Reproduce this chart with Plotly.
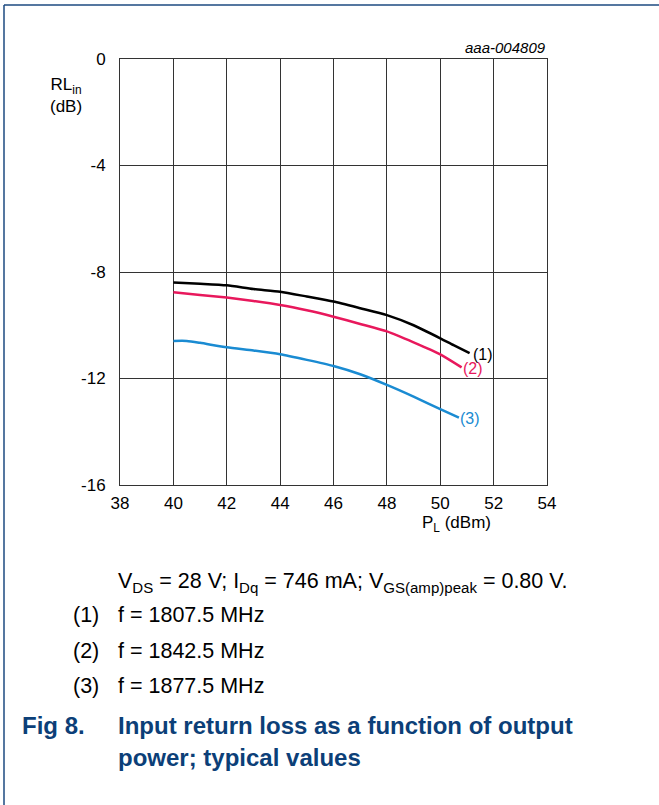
import plotly.graph_objects as go

# ---- data ----
pl_1 = [40, 41, 42, 43, 44, 45, 46, 47, 48, 49, 50, 50.5, 51.1]
rl_1 = [-8.39, -8.44, -8.50, -8.64, -8.74, -8.92, -9.11, -9.36, -9.62, -10.0, -10.49, -10.75, -11.05]

pl_2 = [40, 41, 42, 43, 44, 45, 46, 47, 48, 49, 50, 50.8]
rl_2 = [-8.76, -8.86, -8.96, -9.09, -9.24, -9.44, -9.68, -9.95, -10.23, -10.64, -11.09, -11.58]

pl_3 = [40, 40.5, 41, 42, 43, 44, 45, 46, 47, 48, 49, 50, 50.7]
rl_3 = [-10.59, -10.59, -10.66, -10.83, -10.95, -11.09, -11.30, -11.53, -11.84, -12.24, -12.68, -13.15, -13.47]

series_labels = ["(1)", "(2)", "(3)"]
series_colors = ["#000000", "#e8185c", "#1a8bd2"]
x_ticks = [38, 40, 42, 44, 46, 48, 50, 52, 54]
y_ticks = [0, -4, -8, -12, -16]

W, H = 659, 805
L, R, T, B = 120, 547, 59, 485
FONT = "Liberation Sans, Arial, sans-serif"
NAVY = "#0c3f78"


def px(x):
    return (x - L) / (R - L)


def py(y):
    return (B - y) / (B - T)


fig = go.Figure()
for xs, ys, c in zip([pl_1, pl_2, pl_3], [rl_1, rl_2, rl_3], series_colors):
    fig.add_trace(go.Scatter(x=xs, y=ys, mode="lines",
                             line=dict(color=c, width=2.5, shape="spline", smoothing=0.6),
                             showlegend=False, hoverinfo="skip"))

# curve labels at the end of each curve
for xs, ys, lab, c, dx, dy in zip([pl_1, pl_2, pl_3], [rl_1, rl_2, rl_3], series_labels,
                                  series_colors, [1, -1, -1], [-1, -1, -1]):
    fig.add_annotation(x=xs[-1], y=ys[-1], text=lab, showarrow=False,
                       xanchor="left", yanchor="middle", xshift=dx, yshift=dy,
                       font=dict(family=FONT, size=16, color=c))

axis_common = dict(showgrid=True, gridcolor="#333333", gridwidth=1,
                   showline=True, linecolor="#333333", linewidth=1, mirror=True,
                   zeroline=False, ticks="", tickfont=dict(family=FONT, size=17, color="#000000"))

fig.update_xaxes(range=[38, 54], tickvals=x_ticks, ticktext=[str(v) for v in x_ticks],
                 ticklabelstandoff=3, **axis_common)
fig.update_yaxes(range=[-16, 0], tickvals=y_ticks, ticktext=[str(v) for v in y_ticks],
                 ticklabelstandoff=10, **axis_common)

CAP = 21.5
TIT = 24
anns = [
    dict(x=px(66), y=py(95), text="RL<sub>in</sub><br>(dB)", xanchor="center", yanchor="middle",
         font=dict(family=FONT, size=17, color="#000000")),
    dict(x=px(456), y=py(524), text="P<sub>L</sub> (dBm)", xanchor="center", yanchor="middle",
         font=dict(family=FONT, size=17, color="#000000")),
    dict(x=px(548), y=py(47), text="<i>aaa-004809</i>", xanchor="right", yanchor="middle",
         font=dict(family=FONT, size=15, color="#000000")),
    dict(x=px(116), y=py(582),
         text="V<sub>DS</sub> = 28 V; I<sub>Dq</sub> = 746 mA; V<sub>GS(amp)peak</sub> = 0.80 V.",
         xanchor="left", yanchor="middle", font=dict(family=FONT, size=CAP, color="#000000")),
    dict(x=px(71), y=py(615), text="(1)", xanchor="left", yanchor="middle",
         font=dict(family=FONT, size=CAP, color="#000000")),
    dict(x=px(116), y=py(615), text="f = 1807.5 MHz", xanchor="left", yanchor="middle",
         font=dict(family=FONT, size=CAP, color="#000000")),
    dict(x=px(71), y=py(651), text="(2)", xanchor="left", yanchor="middle",
         font=dict(family=FONT, size=CAP, color="#000000")),
    dict(x=px(116), y=py(651), text="f = 1842.5 MHz", xanchor="left", yanchor="middle",
         font=dict(family=FONT, size=CAP, color="#000000")),
    dict(x=px(71), y=py(686), text="(3)", xanchor="left", yanchor="middle",
         font=dict(family=FONT, size=CAP, color="#000000")),
    dict(x=px(116), y=py(686), text="f = 1877.5 MHz", xanchor="left", yanchor="middle",
         font=dict(family=FONT, size=CAP, color="#000000")),
    dict(x=px(20), y=py(725), text="<b>Fig 8.</b>", xanchor="left", yanchor="middle",
         font=dict(family=FONT, size=TIT, color=NAVY)),
    dict(x=px(116), y=py(725), text="<b>Input return loss as a function of output</b>",
         xanchor="left", yanchor="middle", font=dict(family=FONT, size=TIT, color=NAVY)),
    dict(x=px(116), y=py(757), text="<b>power; typical values</b>",
         xanchor="left", yanchor="middle", font=dict(family=FONT, size=TIT, color=NAVY)),
]
for a in anns:
    fig.add_annotation(xref="paper", yref="paper", showarrow=False, **a)

# page frame (top and left rules)
fig.add_shape(type="line", xref="paper", yref="paper", x0=px(4), x1=px(659), y0=py(5), y1=py(5),
              line=dict(color="#1d4a80", width=1.5))
fig.add_shape(type="line", xref="paper", yref="paper", x0=px(4), x1=px(4), y0=py(5), y1=py(805),
              line=dict(color="#1d4a80", width=1.5))

fig.update_layout(width=W, height=H, margin=dict(l=L, r=W - R, t=T, b=H - B),
                  paper_bgcolor="white", plot_bgcolor="white",
                  font=dict(family=FONT, size=16, color="#000000"))

fig.write_html("out.html", config={"displayModeBar": False, "staticPlot": True},
               post_script="document.body.style.margin='0';document.body.style.padding='0';"
                           "document.body.style.overflow='hidden';")
